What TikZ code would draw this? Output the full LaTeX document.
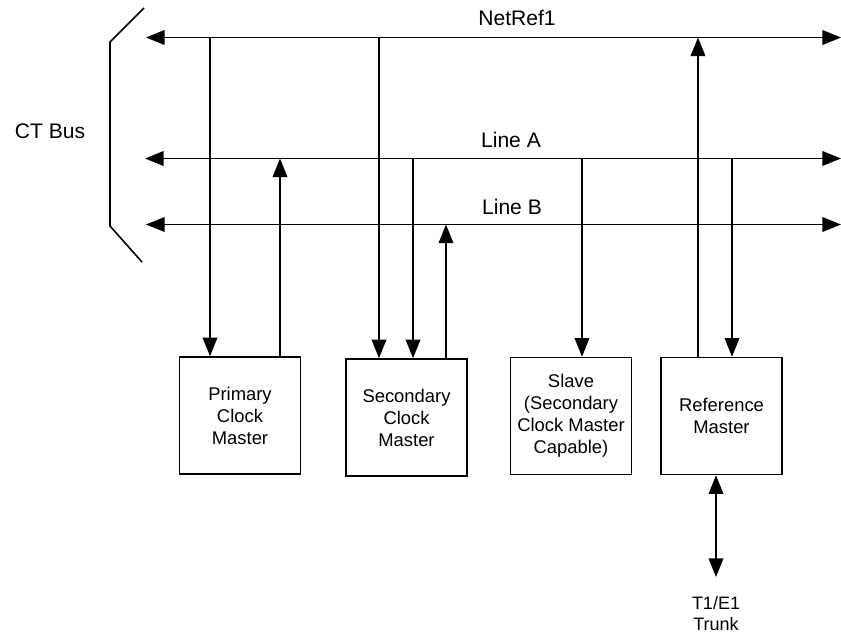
\documentclass[tikz,border=0pt]{standalone}
\usepackage{fontspec}
\setmainfont{Liberation Sans}
\usetikzlibrary{arrows.meta}
\begin{document}
\begin{tikzpicture}[x=.75pt, y=-.75pt, >={Triangle[length=14pt, width=11pt]}, line width=1.2pt,
    unit/.style={draw, minimum width=91pt, minimum height=87.75pt, inner sep=0pt, align=center, font=\fontsize{13.8}{16.5}\selectfont},
    busname/.style={font=\fontsize{15.8}{18}\selectfont}]
\useasboundingbox (0,0) rectangle (841,635);
\draw(144,8)--(110,42)--(110,226)--(142,262);
\node[busname] (ct) at (50,131) {CT Bus};
\coordinate (netL) at (146,37.5); \coordinate (netR) at (841,37.5);
\coordinate (aL) at (145,158.5); \coordinate (aR) at (841,158.5);
\coordinate (bL) at (146,224.5); \coordinate (bR) at (841,224.5);
\draw[<->](netL)--(netR);
\draw[<->](aL)--(aR);
\draw[<->](bL)--(bR);
\node[busname] (netref) at (517,18) {NetRef1};
\node[busname] (linea) at (511,140) {Line A};
\node[busname] (lineb) at (512,207) {Line B};
\node[unit] (pcm) at (240,415.5) {Primary\\Clock\\Master};
\node[unit] (scm) at (406.5,417.5) {Secondary\\Clock\\Master};
\node[unit] (slave) at (571,416) {Slave\\(Secondary\\Clock Master\\Capable)};
\node[unit] (refm) at (721.5,416) {Reference\\Master};
\draw[->](210,0 |- netL)--(210,0 |- pcm.north);
\draw[->](280,0 |- pcm.north)--(280,0 |- aL);
\draw[->](379,0 |- netL)--(379,0 |- scm.north);
\draw[->](413,0 |- aL)--(413,0 |- scm.north);
\draw[->](446,0 |- scm.north)--(446,0 |- bL);
\draw[->](582,0 |- aL)--(582,0 |- slave.north);
\draw[->](698,0 |- refm.north)--(698,0 |- netL);
\draw[->](732,0 |- aL)--(732,0 |- refm.north);
\coordinate (trunkend) at (716,577);
\draw[<->](refm.south -| trunkend)--(trunkend);
\node[align=center, font=\fontsize{13.5}{15.8}\selectfont] (trunk) at (716,614) {T1/E1\\Trunk};
\end{tikzpicture}
\end{document}
